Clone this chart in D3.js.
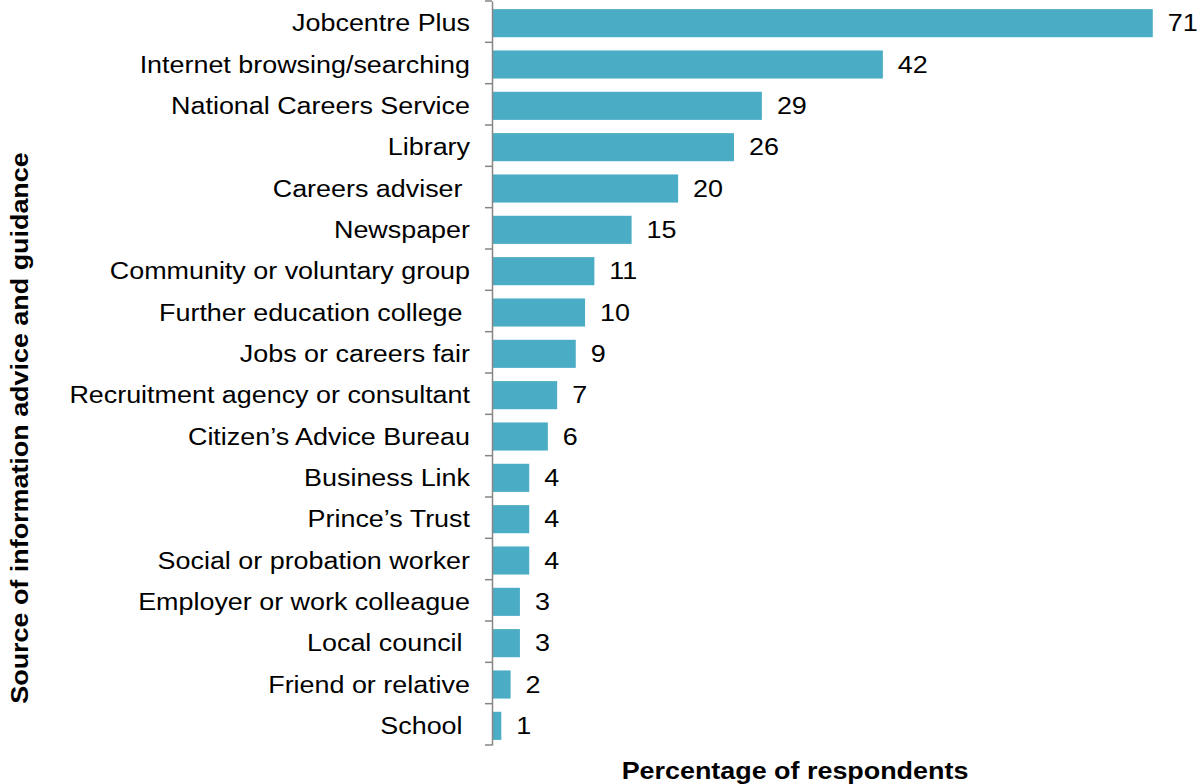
<!DOCTYPE html>
<html>
<head>
<meta charset="utf-8">
<script src="https://cdn.jsdelivr.net/npm/d3@7"></script>
<style>
body { margin: 0; background: #fff; }
text { font-family: "Liberation Sans", Arial, sans-serif; }
</style>
</head>
<body>
<svg width="1201" height="784"></svg>
<script>
const sources = ["Jobcentre Plus", "Internet browsing/searching", "National Careers Service", "Library",
    "Careers adviser ", "Newspaper", "Community or voluntary group", "Further education college ",
    "Jobs or careers fair", "Recruitment agency or consultant", "Citizen\u2019s Advice Bureau", "Business Link",
    "Prince\u2019s Trust", "Social or probation worker", "Employer or work colleague", "Local council ",
    "Friend or relative", "School "]
const percents = [71, 42, 29, 26, 20, 15, 11, 10, 9, 7, 6, 4, 4, 4, 3, 3, 2, 1]
const x_max = 75

const bar_colour = "#4BACC6"
const axis_colour = "#868686"
const font_size = 23
const widen = 1.17   // the source font renders wider than Liberation Sans
const nudge = 1.5    // bars sit slightly below the band centre in the source

const svg = d3.select("svg")

const x = d3.scaleLinear().domain([0, x_max]).range([492, 1190])
const y = d3.scaleBand().domain(sources).range([1, 745]).paddingInner(0.32).paddingOuter(0.16)

// widen a text horizontally around its own x anchor
function stretch(selection) {
    selection.attr("transform", function () {
        const ax = +d3.select(this).attr("x") || 0
        return `translate(${ax},0) scale(${widen},1) translate(${-ax},0)`
    })
}

// bars
svg.selectAll("rect.bar")
    .data(sources)
    .enter()
    .append("rect")
    .attr("class", "bar")
    .attr("x", x(0))
    .attr("y", d => y(d) + nudge)
    .attr("width", (d, i) => x(percents[i]) - x(0))
    .attr("height", y.bandwidth())
    .attr("fill", bar_colour)

// value labels
svg.selectAll("text.value")
    .data(sources)
    .enter()
    .append("text")
    .attr("class", "value")
    .attr("x", (d, i) => x(percents[i]) + 15)
    .attr("y", d => y(d) + y.bandwidth() / 2 + nudge)
    .attr("dy", "0.36em")
    .attr("font-size", font_size)
    .attr("fill", "#000")
    .text((d, i) => percents[i])
    .call(stretch)

// category axis
const axis = svg.append("g")
    .attr("transform", `translate(${x(0)},0)`)
    .call(d3.axisLeft(y).tickSize(0).tickPadding(22))

axis.select(".domain").attr("stroke", axis_colour).attr("stroke-width", 1.5)
axis.selectAll(".tick text")
    .attr("font-size", font_size)
    .attr("fill", "#000")
    .attr("font-family", "'Liberation Sans', Arial, sans-serif")
    .attr("dy", "0.42em")
    .style("white-space", "pre")
    .call(stretch)

// tick marks between categories
const boundaries = d3.range(sources.length + 1).map(i => 1 + i * (744 / sources.length))
axis.selectAll("line.sep")
    .data(boundaries)
    .enter()
    .append("line")
    .attr("class", "sep")
    .attr("x1", -7)
    .attr("x2", 0)
    .attr("y1", d => d)
    .attr("y2", d => d)
    .attr("stroke", axis_colour)
    .attr("stroke-width", 1.5)

// axis titles
svg.append("text")
    .attr("transform", `translate(28,428) rotate(-90) scale(${widen},1)`)
    .attr("text-anchor", "middle")
    .attr("font-size", font_size)
    .attr("font-weight", "bold")
    .text("Source of information advice and guidance")

svg.append("text")
    .attr("x", 795)
    .attr("y", 779)
    .attr("text-anchor", "middle")
    .attr("font-size", font_size)
    .attr("font-weight", "bold")
    .text("Percentage of respondents")
    .call(stretch)
</script>
</body>
</html>
